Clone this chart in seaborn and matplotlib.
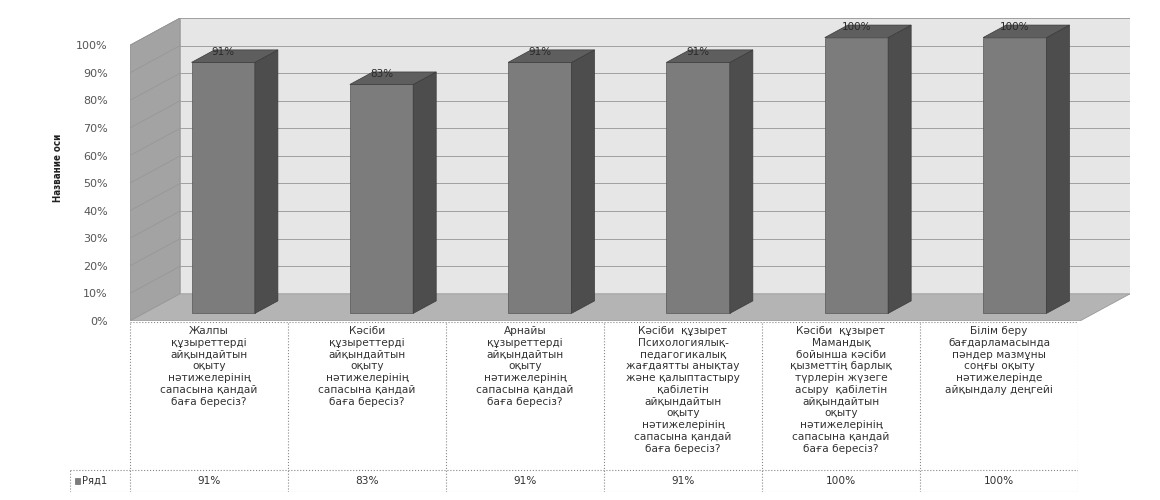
"""
3D-style column chart with a data table underneath (Excel look).
"""
import numpy as np
import pandas as pd
import matplotlib
matplotlib.use('Agg')
import matplotlib.pyplot as plt
from matplotlib.patches import Polygon, Rectangle
from matplotlib.ticker import PercentFormatter
import seaborn as sns

categories = [
    "Жалпы\nқұзыреттерді\nайқындайтын\nоқыту\nнәтижелерінің\nсапасына қандай\nбаға бересіз?",
    "Кәсіби\nқұзыреттерді\nайқындайтын\nоқыту\nнәтижелерінің\nсапасына қандай\nбаға бересіз?",
    "Арнайы\nқұзыреттерді\nайқындайтын\nоқыту\nнәтижелерінің\nсапасына қандай\nбаға бересіз?",
    "Кәсіби  құзырет\nПсихологиялық-\nпедагогикалық\nжағдаятты анықтау\nжәне қалыптастыру\nқабілетін\nайқындайтын\nоқыту\nнәтижелерінің\nсапасына қандай\nбаға бересіз?",
    "Кәсіби  құзырет\nМамандық\nбойынша кәсіби\nқызметтің барлық\nтүрлерін жүзеге\nасыру  қабілетін\nайқындайтын\nоқыту\nнәтижелерінің\nсапасына қандай\nбаға бересіз?",
    "Білім беру\nбағдарламасында\nпәндер мазмұны\nсоңғы оқыту\nнәтижелерінде\nайқындалу деңгейі",
]
values = [0.91, 0.83, 0.91, 0.91, 1.00, 1.00]
value_labels = ["91%", "83%", "91%", "91%", "100%", "100%"]
series_name = "Ряд1"
axis_title = "Название оси"

sns.set_theme(style="white")
plt.rcParams['font.family'] = ['DejaVu Sans']

W, H = 1160, 500
fig = plt.figure(figsize=(W / 100, H / 100), dpi=100)

# depth of the 3D box in data units (50 px wide, 27 px high)
col_px = 158.0
DX = 50 / col_px
DY = 27 / 274.0

ax = fig.add_axes([130 / W, (H - 321) / H, 1000 / W, 303 / H])
df = pd.DataFrame({'cat': [str(i) for i in range(len(values))], 'val': values})
sns.barplot(data=df, x='cat', y='val', ax=ax, color='#7c7c7c', width=0.4,
            saturation=1, zorder=3)

n = len(values)
x0, x1 = -0.5, n - 0.5

# walls and floor
ax.add_patch(Polygon([(x0 + DX, DY), (x1 + DX, DY), (x1 + DX, 1 + DY), (x0 + DX, 1 + DY)],
                     closed=True, facecolor='#e6e6e6', edgecolor='#c8c8c8', lw=0.6, zorder=0))
ax.add_patch(Polygon([(x0, 0), (x0 + DX, DY), (x0 + DX, 1 + DY), (x0, 1)],
                     closed=True, facecolor='#a3a3a3', edgecolor='#909090', lw=0.6, zorder=0))
ax.add_patch(Polygon([(x0, 0), (x1, 0), (x1 + DX, DY), (x0 + DX, DY)],
                     closed=True, facecolor='#b4b4b4', edgecolor='#999999', lw=0.6, zorder=0))

# gridlines on back and left walls
for t in np.arange(0.1, 1.01, 0.1):
    ax.plot([x0 + DX, x1 + DX], [t + DY, t + DY], color='#a0a0a0', lw=0.7, zorder=1)
    ax.plot([x0, x0 + DX], [t, t + DY], color='#959595', lw=0.5, zorder=1)

# turn flat bars into boxes
f, b = 0.28, 0.74
for patch, lab in zip(ax.patches[:n], value_labels):
    px, pw, ph = patch.get_x(), patch.get_width(), patch.get_height()
    patch.set_x(px + f * DX)
    patch.set_y(f * DY)
    patch.set_edgecolor('#555555')
    patch.set_linewidth(0.5)
    xl, xr = px + f * DX, px + pw + f * DX
    bl, br = px + b * DX, px + pw + b * DX
    ax.add_patch(Polygon([(xr, f * DY), (br, b * DY), (br, ph + b * DY), (xr, ph + f * DY)],
                         closed=True, facecolor='#4d4d4d', edgecolor='#3a3a3a', lw=0.5, zorder=3))
    ax.add_patch(Polygon([(xl, ph + f * DY), (bl, ph + b * DY), (br, ph + b * DY), (xr, ph + f * DY)],
                         closed=True, facecolor='#5e5e5e', edgecolor='#3a3a3a', lw=0.5, zorder=3))
    ax.text((xl + xr) / 2, ph + b * DY - 0.008, lab, ha='center', va='center',
            fontsize=7.5, color='#2a2a2a', zorder=5)

ax.set_xlim(x0, x1 + DX)
ax.set_ylim(0, 1 + DY)
ax.set_yticks(np.arange(0, 1.01, 0.1))
ax.yaxis.set_major_formatter(PercentFormatter(1.0, decimals=0))
ax.tick_params(axis='y', labelsize=8, labelcolor='#555555', length=0, pad=16)
ax.set_xticks([])
ax.set_xlabel('')
ax.set_ylabel('')
for s in ax.spines.values():
    s.set_visible(False)
ax.patch.set_alpha(0)

fig.text(58 / W, 1 - 168 / H, axis_title, rotation=90, ha='center', va='center',
         fontsize=7, fontweight='bold', color='#222222', fontstretch='condensed')

# data table
tab = fig.add_axes([70 / W, (H - 492) / H, 1008 / W, 170 / H])
left = -0.5 - 60 / col_px
tab.set_xlim(left, x1)
tab.set_ylim(0, 170)
tab.axis('off')
row_y = 22  # height of value row
lc = '#888888'
tab.plot([x0, x1], [170, 170], color=lc, lw=0.8, ls=':')
tab.plot([left, x1], [row_y, row_y], color=lc, lw=0.8, ls=':')
tab.plot([left, x1], [0, 0], color=lc, lw=0.8, ls=':')
tab.plot([left, left], [0, row_y], color=lc, lw=0.8, ls=':')
for i in range(n + 1):
    tab.plot([i - 0.5, i - 0.5], [0, 170], color=lc, lw=0.8, ls=':')
for i, (cat, lab) in enumerate(zip(categories, value_labels)):
    tab.text(i, 166, cat, ha='center', va='top', fontsize=7.6, color='#333333',
             linespacing=1.22)
    tab.text(i, row_y / 2, lab, ha='center', va='center', fontsize=7.6, color='#333333')
tab.add_patch(Rectangle((left + 0.03, row_y / 2 - 3), 0.035, 6, facecolor='#7c7c7c',
                        edgecolor='#555555', lw=0.4))
tab.text(left + 0.075, row_y / 2, series_name, ha='left', va='center', fontsize=7.2,
         color='#333333')

fig.savefig('out.png', dpi=100, facecolor='white')
